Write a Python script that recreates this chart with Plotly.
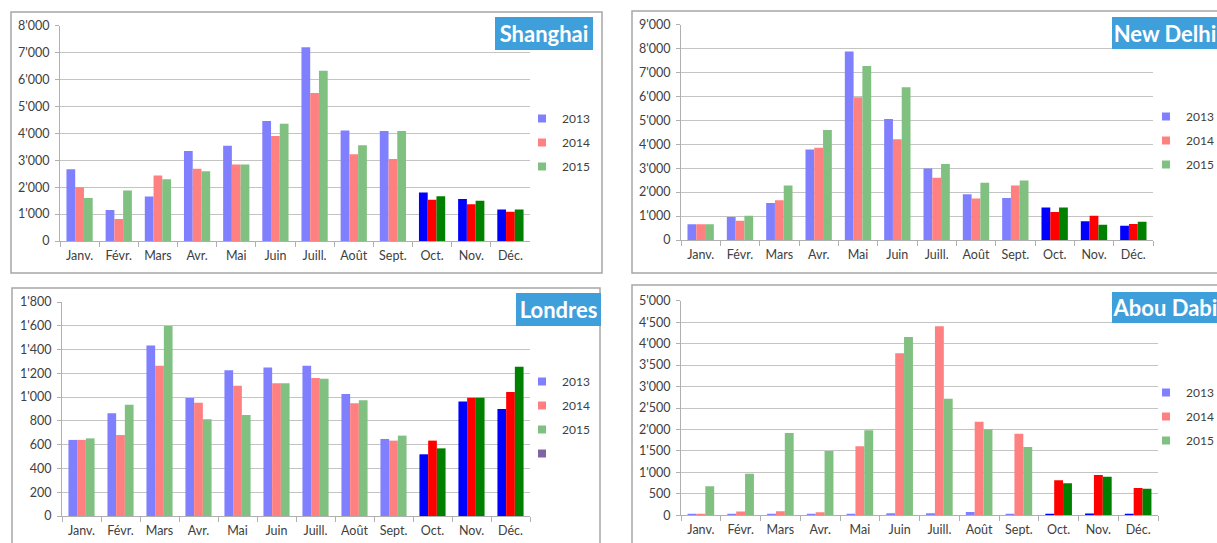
import plotly.graph_objects as go

# ---------------- data ----------------
months = ["Janv.", "Févr.", "Mars", "Avr.", "Mai", "Juin", "Juill.", "Août", "Sept.", "Oct.", "Nov.", "Déc."]
highlight_months = ["Oct.", "Nov.", "Déc."]
years = ["2013", "2014", "2015"]

shanghai_2013 = [2670, 1150, 1650, 3340, 3540, 4460, 7200, 4110, 4090, 1800, 1560, 1170]
shanghai_2014 = [2000, 820, 2430, 2680, 2840, 3900, 5500, 3220, 3050, 1530, 1370, 1090]
shanghai_2015 = [1600, 1880, 2290, 2590, 2840, 4360, 6330, 3560, 4090, 1660, 1500, 1170]

delhi_2013 = [660, 960, 1550, 3780, 7870, 5050, 2990, 1910, 1750, 1360, 780, 590]
delhi_2014 = [660, 800, 1660, 3850, 5960, 4210, 2600, 1730, 2280, 1170, 1010, 670]
delhi_2015 = [660, 1010, 2280, 4590, 7270, 6380, 3170, 2390, 2490, 1360, 640, 760]

london_2013 = [640, 864, 1435, 993, 1225, 1250, 1264, 1026, 648, 519, 964, 900]
london_2014 = [640, 681, 1264, 953, 1096, 1116, 1161, 948, 634, 634, 995, 1043]
london_2015 = [653, 936, 1598, 813, 850, 1116, 1155, 973, 676, 569, 995, 1256]

abudhabi_2013 = [23, 20, 20, 20, 20, 45, 45, 75, 20, 25, 40, 25]
abudhabi_2014 = [20, 90, 95, 70, 1607, 3773, 4402, 2182, 1902, 815, 940, 637]
abudhabi_2015 = [675, 970, 1918, 1500, 1980, 4154, 2717, 2003, 1592, 745, 900, 621]

cities = ["Shanghai", "New Delhi", "Londres", "Abou Dabi"]
y_max = [8000, 9000, 1800, 5000]
y_step = [1000, 1000, 200, 500]

# ---------------- styles ----------------
W, H = 1217, 543
light = {"2013": "#8080FF", "2014": "#FF8080", "2015": "#80C080"}
dark = {"2013": "#0000FF", "2014": "#FF0000", "2015": "#008000"}
extra_legend_color = "#8064A2"
grid_c = "#C4C4C4"
axis_c = "#B0B0B0"
txt_c = "#404040"
title_bg = "#3F9FDB"
FONT = "Lato"


def px(x):
    return x / W


def py(y):
    return 1 - y / H


# panel geometry in pixels
panels = [
    dict(x0=60, x1=530, y0=241, y1=25.7, border=(11, 12, 602, 273),
         title=(495, 17, 98, 33), leg=(522, 104)),
    dict(x0=681, x1=1153, y0=240, y1=24.5, border=(632, 11, 1230, 273),
         title=(1112, 17, 106, 32), leg=(1146, 102)),
    dict(x0=62, x1=530, y0=516, y1=302, border=(12, 288, 600, 560),
         title=(516, 293, 85, 33), leg=(522, 367)),
    dict(x0=681, x1=1158, y0=515.3, y1=300.7, border=(632, 285, 1230, 560),
         title=(1112, 292, 106, 31), leg=(1146, 378)),
]

series = [
    [shanghai_2013, shanghai_2014, shanghai_2015],
    [delhi_2013, delhi_2014, delhi_2015],
    [london_2013, london_2014, london_2015],
    [abudhabi_2013, abudhabi_2014, abudhabi_2015],
]

fig = go.Figure()
shapes = []
annotations = []
layout_axes = {}
legends = {}

for i, (city, p, vals) in enumerate(zip(cities, panels, series)):
    n = i + 1
    xa = "x" if n == 1 else f"x{n}"
    ya = "y" if n == 1 else f"y{n}"
    lg = "legend" if n == 1 else f"legend{n}"
    for yr, v in zip(years, vals):
        colors = [dark[yr] if m in highlight_months else light[yr] for m in months]
        fig.add_trace(go.Bar(x=months, y=v, name=yr, marker=dict(color=colors, line=dict(width=0)),
                             xaxis=xa, yaxis=ya, showlegend=False))
        fig.add_trace(go.Scatter(x=[None], y=[None], mode="markers", name=yr,
                                 marker=dict(symbol="square", size=8, color=light[yr]),
                                 xaxis=xa, yaxis=ya, legend=lg, legendgroup=f"{n}{yr}"))
    if city == "Londres":
        fig.add_trace(go.Scatter(x=[None], y=[None], mode="markers", name=" ",
                                 marker=dict(symbol="square", size=8, color=extra_legend_color),
                                 xaxis=xa, yaxis=ya, legend=lg, legendgroup=f"{n}extra"))

    xkey = "xaxis" if n == 1 else f"xaxis{n}"
    ykey = "yaxis" if n == 1 else f"yaxis{n}"
    layout_axes[xkey] = dict(
        domain=[px(p["x0"]), px(p["x1"])], anchor=ya, type="category",
        categoryorder="array", categoryarray=months, automargin=False,
        showline=True, linecolor=axis_c, linewidth=1, showgrid=False,
        ticks="outside", tickson="boundaries", ticklen=5, tickcolor=axis_c,
        ticklabelstandoff=3,
        tickfont=dict(family=FONT, size=12.5, color=txt_c), fixedrange=True,
    )
    layout_axes[ykey] = dict(
        domain=[py(p["y0"]), py(p["y1"])], anchor=xa, range=[0, y_max[i]], automargin=False,
        dtick=y_step[i], tick0=0, showline=True, linecolor=axis_c, linewidth=1,
        showgrid=True, gridcolor=grid_c, gridwidth=1, zeroline=False,
        ticks="outside", ticklen=4, tickcolor=axis_c, tickformat=",d", separatethousands=True,
        ticklabelstandoff=3,
        tickfont=dict(family=FONT, size=12.5, color=txt_c), fixedrange=True,
    )
    bx0, by0, bx1, by1 = p["border"]
    shapes.append(dict(type="rect", xref="paper", yref="paper", x0=px(bx0), x1=px(bx1),
                       y0=py(by0), y1=py(by1), line=dict(color="#A6A6A6", width=1.5),
                       fillcolor="rgba(0,0,0,0)", layer="above"))
    tx, ty, tw, th = p["title"]
    annotations.append(dict(text=f"<b>{city}</b>", xref="paper", yref="paper",
                            x=px(tx), y=py(ty), xanchor="left", yanchor="top",
                            width=tw, height=th, borderpad=0, borderwidth=0,
                            bgcolor=title_bg, align="center", valign="middle", showarrow=False,
                            font=dict(family=FONT, size=22, color="white")))
    lx, ly = p["leg"]
    legends[lg] = dict(x=px(lx), y=py(ly), xanchor="left", yanchor="top",
                       font=dict(family=FONT, size=12, color=txt_c),
                       traceorder="grouped", tracegroupgap=5, bgcolor="rgba(0,0,0,0)",
                       borderwidth=0, itemclick=False, itemdoubleclick=False)

fig.update_layout(
    width=W, height=H, margin=dict(l=0, r=0, t=0, b=0, autoexpand=False), autosize=False,
    paper_bgcolor="white", plot_bgcolor="white",
    barmode="group", bargap=0.33, bargroupgap=0,
    separators=".'", shapes=shapes, annotations=annotations,
    font=dict(family=FONT, color=txt_c),
    **layout_axes, **legends,
)

fig.write_html("out.html", config={"displayModeBar": False},
               post_script="document.body.style.margin='0px';document.body.style.overflow='hidden';")
